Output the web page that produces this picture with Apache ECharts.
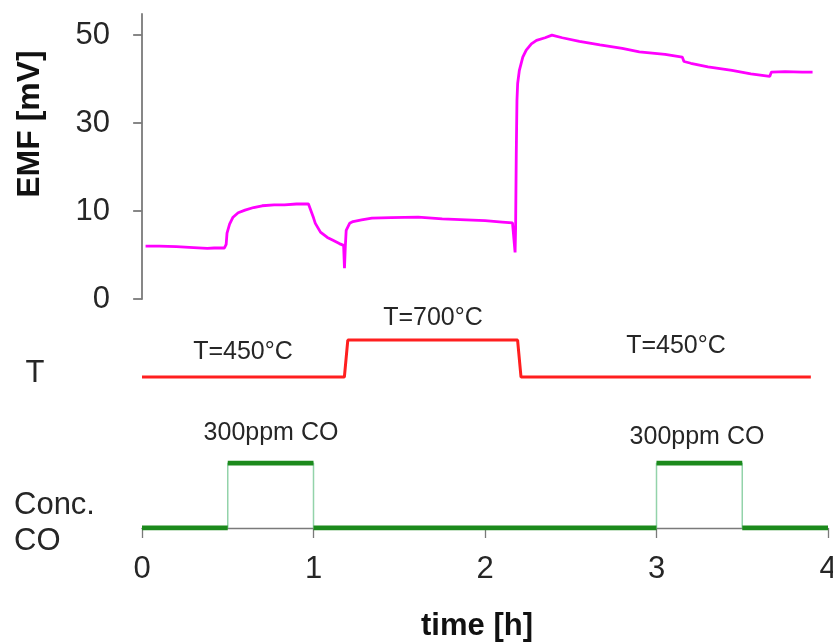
<!DOCTYPE html>
<html>
<head>
<meta charset="utf-8">
<script src="https://cdn.jsdelivr.net/npm/echarts@6/dist/echarts.min.js"></script>
<style>
html,body{margin:0;padding:0;background:#fff;}
#chart{width:833px;height:643px;}
</style>
</head>
<body>
<div id="chart"></div>
<script>
// ---- data ----
// EMF trace, y in axis-tick units (tick positions labelled 0, 10, 30, 50)
const emfTime = [0.02,0.10,0.20,0.30,0.38,0.42,0.48,0.49,0.495,0.51,0.53,0.56,0.60,0.65,0.70,0.77,0.83,0.90,0.97,0.98,1.00,1.01,1.04,1.08,1.11,1.15,1.175,1.18,1.185,1.19,1.21,1.23,1.28,1.34,1.45,1.61,1.75,1.89,2.00,2.10,2.16,2.17,2.175,2.178,2.182,2.186,2.19,2.20,2.22,2.24,2.27,2.30,2.35,2.39,2.45,2.55,2.67,2.80,2.90,3.05,3.15,3.16,3.20,3.30,3.44,3.55,3.66,3.67,3.75,3.85,3.91];
const emfValue = [0.60,0.60,0.595,0.585,0.575,0.58,0.58,0.62,0.75,0.85,0.93,0.98,1.01,1.04,1.06,1.07,1.07,1.08,1.08,1.07,0.92,0.86,0.76,0.70,0.67,0.63,0.61,0.35,0.60,0.78,0.86,0.88,0.90,0.92,0.925,0.93,0.91,0.90,0.89,0.875,0.865,0.86,0.53,0.80,1.66,2.26,2.45,2.60,2.75,2.83,2.90,2.94,2.97,3.00,2.97,2.93,2.89,2.85,2.81,2.78,2.75,2.70,2.68,2.64,2.60,2.56,2.53,2.58,2.585,2.58,2.58];
const emfTickValues = [0, 1, 2, 3];
const emfTickLabels = ['0', '10', '30', '50'];

// Temperature program (°C)
const tempTime  = [0, 1.18, 1.20, 2.19, 2.21, 3.90];
const tempValue = [450, 450, 700, 700, 450, 450];

// CO concentration program (ppm): level held between consecutive switch times
const coSwitchTimes = [0, 0.5, 1.0, 3.0, 3.5, 4.0];
const coLevels = [0, 300, 0, 300, 0];

const xTicks = [0, 1, 2, 3, 4];

// ---- build series data ----
const emfData = emfTime.map((t, i) => [t, emfValue[i]]);
const tempData = tempTime.map((t, i) => [t, tempValue[i]]);
const coStep = [];
const coFlat = [];
for (let i = 0; i < coLevels.length; i++) {
  coStep.push([coSwitchTimes[i], coLevels[i]]);
  coStep.push([coSwitchTimes[i + 1], coLevels[i]]);
  coFlat.push([coSwitchTimes[i], coLevels[i]]);
  coFlat.push([coSwitchTimes[i + 1], coLevels[i]]);
  coFlat.push('-');
}

const FONT = '"Liberation Sans", Arial, Helvetica, sans-serif';
const TXT = '#262626';
const AX = '#7a7a7a';

const chart = echarts.init(document.getElementById('chart'), null, {renderer: 'canvas'});
chart.setOption({
  animation: false,
  backgroundColor: '#ffffff',
  grid: [
    {left: 137, top: 14, width: 691, height: 285, outerBoundsMode: 'none', containLabel: false},
    {left: 142, top: 330, width: 686, height: 50, outerBoundsMode: 'none', containLabel: false},
    {left: 142, top: 463, width: 686, height: 65, outerBoundsMode: 'none', containLabel: false}
  ],
  xAxis: [
    {gridIndex: 0, type: 'value', min: -0.03, max: 4, show: false},
    {gridIndex: 1, type: 'value', min: 0, max: 4, show: false},
    {gridIndex: 2, type: 'value', min: 0, max: 4, interval: 1,
     axisLine: {show: true, onZero: false, lineStyle: {color: AX, width: 1.3}},
     axisTick: {show: true, length: 10, customValues: xTicks, lineStyle: {color: AX, width: 1.3}},
     splitLine: {show: false},
     axisLabel: {fontFamily: FONT, fontSize: 31, color: TXT, margin: 26,
       customValues: xTicks, formatter: v => String(v)}}
  ],
  yAxis: [
    {gridIndex: 0, type: 'value', min: 0, max: 3.24,
     axisLine: {show: true, lineStyle: {color: AX, width: 1.8}},
     axisTick: {show: true, length: 9, customValues: emfTickValues, lineStyle: {color: AX, width: 1.8}},
     splitLine: {show: false},
     axisLabel: {fontFamily: FONT, fontSize: 31, color: TXT, margin: 27,
       customValues: emfTickValues,
       formatter: v => emfTickLabels[emfTickValues.indexOf(Math.round(v))] || ''}},
    {gridIndex: 1, type: 'value', min: 430, max: 768, show: false},
    {gridIndex: 2, type: 'value', min: 0, max: 300, show: false}
  ],
  series: [
    {type: 'line', xAxisIndex: 0, yAxisIndex: 0, data: emfData, showSymbol: false,
     lineStyle: {color: '#ff00ff', width: 2.8}, itemStyle: {color: '#ff00ff'}},
    {type: 'line', xAxisIndex: 1, yAxisIndex: 1, data: tempData, showSymbol: false,
     lineStyle: {color: '#ff1f1f', width: 3}, itemStyle: {color: '#ff1f1f'}},
    {type: 'line', xAxisIndex: 2, yAxisIndex: 2, data: coStep, showSymbol: false,
     lineStyle: {color: '#93d3aa', width: 1.5}, itemStyle: {color: '#93d3aa'}},
    {type: 'line', xAxisIndex: 2, yAxisIndex: 2, data: coFlat, showSymbol: false,
     connectNulls: false,
     lineStyle: {color: '#1c8a1c', width: 5}, itemStyle: {color: '#1c8a1c'}}
  ],
  graphic: [
    {type: 'text', x: 30, y: 124, rotation: Math.PI / 2,
     style: {text: 'EMF [mV]', font: 'bold 32px ' + FONT, fill: '#111',
             align: 'center', verticalAlign: 'middle', textAlign: 'center', textVerticalAlign: 'middle'}},
    {type: 'text', x: 35, y: 373,
     style: {text: 'T', font: '31px ' + FONT, fill: TXT, align: 'center', verticalAlign: 'middle', textAlign: 'center', textVerticalAlign: 'middle'}},
    {type: 'text', x: 14, y: 505,
     style: {text: 'Conc.', font: '31px ' + FONT, fill: TXT, align: 'left', verticalAlign: 'middle', textAlign: 'left', textVerticalAlign: 'middle'}},
    {type: 'text', x: 14, y: 541,
     style: {text: 'CO', font: '31px ' + FONT, fill: TXT, align: 'left', verticalAlign: 'middle', textAlign: 'left', textVerticalAlign: 'middle'}},
    {type: 'text', x: 477, y: 626,
     style: {text: 'time [h]', font: 'bold 31px ' + FONT, fill: '#111', align: 'center', verticalAlign: 'middle', textAlign: 'center', textVerticalAlign: 'middle'}},
    {type: 'text', x: 243, y: 352,
     style: {text: 'T=450°C', font: '25px ' + FONT, fill: TXT, align: 'center', verticalAlign: 'middle', textAlign: 'center', textVerticalAlign: 'middle'}},
    {type: 'text', x: 433, y: 318,
     style: {text: 'T=700°C', font: '25px ' + FONT, fill: TXT, align: 'center', verticalAlign: 'middle', textAlign: 'center', textVerticalAlign: 'middle'}},
    {type: 'text', x: 676, y: 346,
     style: {text: 'T=450°C', font: '25px ' + FONT, fill: TXT, align: 'center', verticalAlign: 'middle', textAlign: 'center', textVerticalAlign: 'middle'}},
    {type: 'text', x: 271, y: 433,
     style: {text: '300ppm CO', font: '25px ' + FONT, fill: TXT, align: 'center', verticalAlign: 'middle', textAlign: 'center', textVerticalAlign: 'middle'}},
    {type: 'text', x: 697, y: 437,
     style: {text: '300ppm CO', font: '25px ' + FONT, fill: TXT, align: 'center', verticalAlign: 'middle', textAlign: 'center', textVerticalAlign: 'middle'}}
  ]
});
</script>
</body>
</html>
